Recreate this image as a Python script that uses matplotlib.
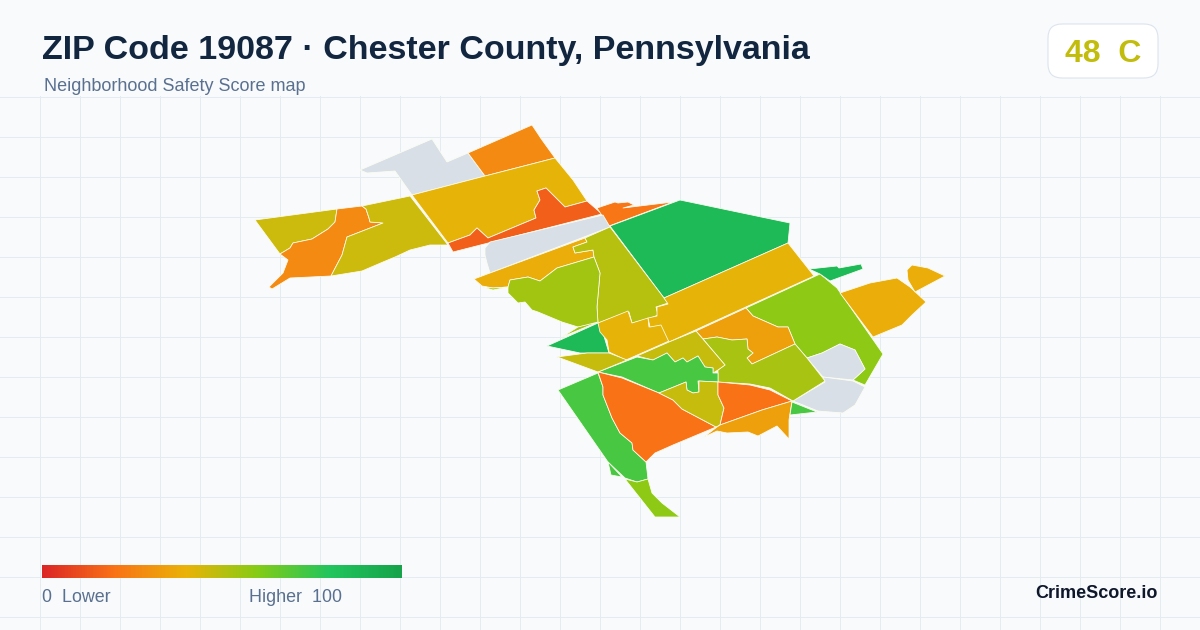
import matplotlib
matplotlib.use('Agg')
import matplotlib.pyplot as plt
import numpy as np
from matplotlib.collections import PolyCollection
from matplotlib.colors import LinearSegmentedColormap, Normalize
from matplotlib.patches import FancyBboxPatch

plt.rcParams['font.family'] = ['Liberation Sans', 'DejaVu Sans']

TITLE = 'ZIP Code 19087 · Chester County, Pennsylvania'
SUBTITLE = 'Neighborhood Safety Score map'
GRADE_TEXT = 'C'
ZIP_SCORE = 48
BRAND = 'CrimeScore.io'

# Colour scale of the legend
SCALE_POS = [0, 0.2, 0.4, 0.6, 0.8, 1]
SCALE_COL = ['#dc2626', '#f97316', '#eab308', '#84cc16', '#22c55e', '#16a34a']

# Neighborhood outlines (screen pixels) and their scores
nw_grey = [(360,170),(432,139),(447,162),(468,153),(485,176),(412,195),(395,171),(367,173)]
top_orange = [(468,153),(532,125),(542,140),(555,158),(485,176)]
big_gold = [(412,195),(485,176),(555,158),(573,180),(587,201),(565,207),(546,188),(537,191),
            (540,200),(534,210),(536,218),(488,238),(477,228),(470,235),(448,243)]
red_strip = [(448,243),(453,252),(602,214),(587,201),(565,207),(546,188),(537,191),(540,200),
             (534,210),(536,218),(488,238),(477,228),(470,235)]
ne_strip = [(597,208),(615,202),(618,203),(628,202),(634,205),(623,208),(673,202),(609,226)]
big_green = [(610,226),(680,200),(790,223),(788,243),(664,298)]
grey_band = [(485,248),(490,242),(603,215),(610,227),(490,273),(487,263),(485,255)]
gold_strip = [(474,279),(490,273),(585,238),(587,242),(573,247),(575,253),(593,250),(594,257),
              (557,268),(540,281),(528,277),(510,280),(508,287),(493,288),(482,286)]
olive_mid = [(610,227),(664,298),(668,303),(656,307),(658,315),(648,319),(632,323),(629,312),
             (598,323),(597,307),(600,273),(594,257),(593,250),(575,253),(573,247),(587,242),(585,238)]
lime_mid = [(594,257),(600,273),(597,307),(598,323),(578,327),(562,322),(550,317),(538,312),
            (532,310),(525,302),(518,303),(508,293),(508,287),(510,280),(528,277),(540,281),(557,268)]
lime_chip = [(483,287),(493,290),(508,287),(493,288)]
lime_sliver = [(562,337),(578,327),(598,322)]
green_tri = [(547,346),(598,323),(603,333),(609,353),(580,353)]
gold_mid = [(598,323),(628,311),(632,323),(648,318),(649,327),(663,323),(669,341),(626,360),
            (609,352),(607,340),(600,332)]
gold_band = [(664,298),(788,243),(814,276),(669,342),(661,325),(650,327),(648,318),(657,316),
             (657,307),(668,304)]
east_lime = [(820,274),(837,288),(883,354),(865,385),(853,380),(865,369),(855,350),(840,344),
             (822,353),(807,358),(795,344),(788,327),(778,327),(753,316),(746,308)]
east_sliver = [(809,269),(837,266),(839,268),(861,264),(863,269),(830,281),(820,274)]
far_gold = [(840,293),(870,283),(897,278),(910,287),(926,302),(912,315),(902,325),(873,337)]
far_chip = [(907,270),(912,265),(928,268),(945,276),(915,292),(908,280)]
grey_e1 = [(807,358),(822,353),(840,344),(855,350),(865,369),(853,380),(823,377)]
grey_e2 = [(793,401),(825,382),(823,377),(853,381),(865,387),(855,405),(843,413),(818,411)]
amber_mid = [(696,331),(746,308),(753,316),(778,327),(788,327),(795,344),(752,364),(747,358),
             (753,353),(748,349),(747,339),(732,340),(717,337),(703,339)]
lime_south = [(703,339),(717,337),(732,340),(747,339),(748,349),(753,353),(747,358),(752,364),
              (795,344),(807,358),(825,381),(793,401),(770,388),(750,384),(718,382),(718,370),(725,365)]
olive_steps = [(637,356),(669,342),(696,331),(725,365),(718,370),(713,373),(713,368),(705,367),
               (698,356),(687,362),(683,358),(675,362),(667,353),(653,360)]
green_steps = [(598,372),(637,357),(653,360),(667,353),(675,362),(683,358),(687,362),(698,356),
               (705,367),(713,368),(713,373),(718,373),(718,382),(698,381),(699,392),(693,393),
               (687,390),(686,382),(659,393),(622,377)]
olive_west = [(557,357),(587,353),(609,353),(627,360),(598,372),(560,358)]
sw_green = [(558,390),(598,373),(603,387),(603,395),(612,418),(620,433),(632,443),(633,450),
            (646,462),(648,479),(637,482),(625,478),(608,462)]
sw_chip = [(608,462),(622,477),(611,475)]
orange_sw = [(598,372),(622,378),(659,393),(673,400),(682,409),(716,427),(673,445),(655,453),
             (646,462),(633,450),(632,443),(620,433),(612,418),(603,395),(603,387)]
olive_cut = [(659,393),(686,382),(687,390),(693,393),(699,392),(699,381),(718,382),(718,395),
             (724,408),(720,425),(716,427),(682,409),(673,400)]
orange_se = [(718,382),(750,385),(770,390),(792,401),(762,410),(720,425),(724,408),(718,395)]
amber_south = [(792,401),(789,420),(789,439),(777,426),(758,436),(748,432),(727,433),(717,431),
               (704,437),(717,427),(720,425),(762,410)]
green_chip = [(792,402),(817,412),(790,415)]
south_tail = [(625,479),(637,482),(648,479),(652,493),(662,503),(680,517),(655,517)]
west_olive = [(255,220),(337,209),(335,222),(328,229),(312,239),(293,243),(290,248),(280,254)]
west_orange = [(337,209),(362,206),(366,209),(369,218),(370,222),(383,223),(347,237),(342,255),
               (331,276),(290,278),(272,289),(269,287),(283,273),(288,260),(280,254),(290,248),
               (293,243),(312,239),(328,229),(335,222)]
west_band = [(362,206),(410,196),(448,245),(430,245),(410,250),(395,257),(383,262),(362,271),
             (331,276),(342,255),(347,237),(383,223),(370,222),(369,218),(366,209)]

outlines = [nw_grey, top_orange, big_gold, red_strip, ne_strip, big_green, grey_band, gold_strip,
            olive_mid, lime_mid, lime_chip, lime_sliver, green_tri, gold_mid, gold_band, east_lime,
            east_sliver, far_gold, far_chip, grey_e1, grey_e2, amber_mid, lime_south, olive_steps,
            green_steps, olive_west, sw_green, sw_chip, orange_sw, olive_cut, orange_se, amber_south,
            green_chip, south_tail, west_olive, west_orange, west_band]
# nan = no score (grey)
scores = [np.nan, 27, 41, 15, 21, 86, np.nan, 38,
          50, 54, 54, 54, 86, 41, 41, 58,
          86, 38, 38, np.nan, np.nan, 34, 53, 47,
          72, 47, 72, 72, 20, 47, 20, 34,
          72, 58, 46, 27, 46]

cmap = LinearSegmentedColormap.from_list('safety', list(zip(SCALE_POS, SCALE_COL)))
cmap.set_bad('#d8dfe7')
norm = Normalize(0, 100)

fig = plt.figure(figsize=(12, 6.3), dpi=100, facecolor='#f8fafc')
ax = fig.add_axes([0, 0, 1, 1])
ax.set_facecolor('#f8fafc')
ax.axis('off')

# background grid, only below the header
for gx in np.arange(40, 1200, 40):
    ax.plot([gx + 0.2, gx + 0.2], [96, 630], color='#e4ecf1', lw=0.72, zorder=1)
for gy in np.arange(96, 630, 40):
    ax.plot([0, 1200], [gy + 0.5, gy + 0.5], color='#e4ecf1', lw=0.72, zorder=1)

polys = PolyCollection(outlines, array=np.ma.masked_invalid(scores), cmap=cmap, norm=norm,
                       edgecolors='#fdfdf0', linewidths=0.55, zorder=2)
ax.add_collection(polys)

# header
ax.text(42, 59, TITLE, fontsize=24.5, fontweight='bold', color='#12263f', va='baseline', zorder=5)
ax.text(44, 91, SUBTITLE, fontsize=12.95, color='#5a7090', va='baseline', zorder=5)

# score badge
badge = FancyBboxPatch((1060, 36), 86, 30, boxstyle='round,pad=12,rounding_size=14',
                       facecolor='white', edgecolor='#dde4ee', linewidth=0.8, zorder=4)
ax.add_patch(badge)
ax.text(1103, 62, f'{ZIP_SCORE}  {GRADE_TEXT}', fontsize=23, fontweight='bold', color=cmap(norm(ZIP_SCORE)),
        ha='center', va='baseline', zorder=5)

# legend bar
ax.imshow(np.linspace(0, 100, 360).reshape(1, -1), cmap=cmap, norm=norm, aspect='auto',
          extent=(42, 402, 578, 565), zorder=3)
ax.text(42, 602, '0  Lower', fontsize=12.9, color='#5a7090', va='baseline', zorder=5)
ax.text(249, 602, 'Higher  100', fontsize=12.9, color='#5a7090', va='baseline', zorder=5)
ax.text(1158, 598, BRAND, fontsize=13, fontweight='bold', color='#0f172a', ha='right', va='baseline', zorder=5)

ax.set_xlim(0, 1200)
ax.set_ylim(630, 0)

fig.savefig('out.png', dpi=100, facecolor=fig.get_facecolor())
